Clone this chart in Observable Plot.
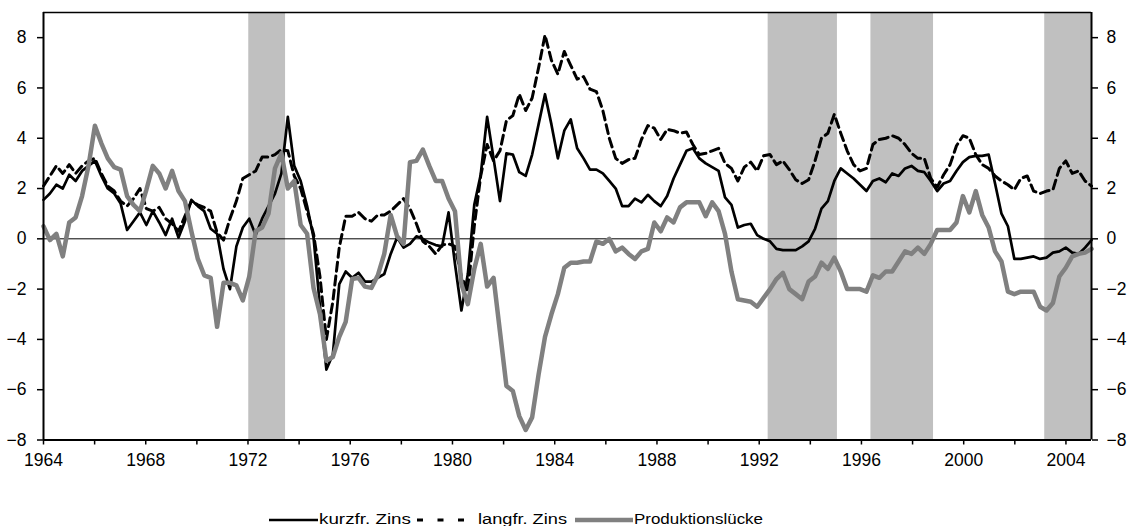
<!DOCTYPE html>
<html><head><meta charset="utf-8">
<script src="https://cdn.jsdelivr.net/npm/d3@7"></script>
<script src="https://cdn.jsdelivr.net/npm/@observablehq/plot@0.6"></script>
<style>
body{margin:0;background:#fff;font-family:"Liberation Sans",Arial,sans-serif}
svg{display:block}
#chart text{font-size:17.5px;font-family:"Liberation Sans",Arial,sans-serif;fill:#000}
</style>
</head><body><div id="chart"></div><div id="legend"></div>
<script>
// quarterly values 1964Q1 .. 2004Q4
const kurz = [1.55,1.8,2.15,2.0,2.55,2.3,2.7,2.9,3.1,2.5,2.0,1.8,1.4,0.35,0.7,1.05,0.55,1.1,0.65,0.15,
0.8,0.05,0.7,1.55,1.3,1.1,0.4,0.2,-1.2,-2.0,-0.3,0.45,0.8,0.15,0.8,1.3,1.8,2.6,4.85,2.9,
2.3,1.3,0.05,-2.7,-5.2,-4.6,-1.8,-1.3,-1.55,-1.35,-1.7,-1.7,-1.55,-1.4,-0.6,0.05,-0.35,-0.2,0.1,0.0,
-0.15,-0.25,-0.3,1.05,-1.0,-2.85,-1.4,1.35,2.55,4.85,3.2,1.5,3.4,3.35,2.65,2.5,3.35,4.55,5.75,4.55,
3.2,4.3,4.75,3.6,3.2,2.75,2.75,2.6,2.3,2.0,1.3,1.3,1.6,1.45,1.75,1.5,1.3,1.7,2.4,2.95,
3.5,3.6,3.2,3.0,2.85,2.7,1.65,1.35,0.45,0.55,0.6,0.15,0.0,-0.1,-0.4,-0.45,-0.45,-0.45,-0.3,-0.1,
0.4,1.2,1.5,2.3,2.8,2.6,2.4,2.15,1.9,2.3,2.4,2.25,2.6,2.5,2.8,2.9,2.7,2.65,2.3,1.9,
2.2,2.3,2.7,3.05,3.25,3.3,3.3,3.35,2.2,1.0,0.5,-0.8,-0.8,-0.75,-0.7,-0.8,-0.75,-0.55,-0.5,-0.35,
-0.55,-0.6,-0.35,-0.05];
const langfr = [2.1,2.5,2.9,2.6,2.95,2.6,2.9,3.1,3.2,2.6,2.1,1.9,1.5,1.3,1.6,2.0,1.2,1.1,1.25,0.8,
0.6,0.3,0.9,1.5,1.35,1.25,1.1,0.25,-0.05,0.8,1.5,2.4,2.55,2.7,3.25,3.25,3.35,3.55,3.5,2.5,
2.0,1.1,0.2,-1.5,-4.0,-2.5,-0.35,0.9,0.9,1.05,0.8,0.7,0.95,0.95,1.1,1.35,1.6,1.2,0.6,-0.1,
-0.3,-0.6,-0.25,-0.2,-0.3,-1.5,-2.1,0.5,2.5,3.75,3.1,3.5,4.7,4.9,5.75,5.1,5.6,6.8,8.1,7.1,
6.55,7.45,6.9,6.35,6.45,5.95,5.85,5.1,4.0,3.2,3.0,3.15,3.2,3.95,4.5,4.4,3.95,4.35,4.3,4.2,
4.25,3.75,3.35,3.4,3.5,3.6,3.0,2.8,2.3,2.85,3.05,2.7,3.3,3.35,2.95,3.1,2.75,2.35,2.2,2.35,
3.1,4.0,4.2,4.95,4.2,3.5,2.95,2.7,2.8,3.75,3.95,4.0,4.1,4.0,3.75,3.4,3.2,3.2,2.4,2.05,
2.55,2.95,3.7,4.1,4.0,3.35,2.95,2.8,2.5,2.3,2.15,1.95,2.4,2.5,1.9,1.8,1.9,1.95,2.8,3.1,
2.6,2.7,2.3,2.1];
const produktionsluecke = [0.5,-0.05,0.2,-0.7,0.65,0.85,1.7,2.9,4.5,3.8,3.2,2.85,2.75,1.7,1.35,1.1,1.95,2.9,2.6,2.0,
2.7,1.9,1.5,0.3,-0.8,-1.45,-1.55,-3.5,-1.75,-1.75,-1.85,-2.45,-1.5,0.3,0.45,1.0,2.8,3.4,2.0,2.3,
0.55,0.2,-1.95,-3.0,-4.85,-4.7,-3.9,-3.3,-1.6,-1.55,-1.9,-1.95,-1.45,-0.6,0.95,0.1,-0.2,3.05,3.1,3.55,
2.9,2.3,2.3,1.6,1.1,-1.8,-2.6,-1.2,-0.2,-1.9,-1.55,-3.7,-5.85,-6.05,-7.05,-7.6,-7.1,-5.4,-3.9,-3.0,
-2.2,-1.15,-0.95,-0.95,-0.9,-0.9,-0.1,-0.2,0.0,-0.5,-0.35,-0.6,-0.8,-0.5,-0.4,0.65,0.3,0.85,0.65,1.25,
1.45,1.45,1.45,0.9,1.45,1.1,0.2,-1.3,-2.4,-2.45,-2.5,-2.7,-2.35,-2.0,-1.6,-1.35,-2.0,-2.2,-2.4,-1.7,
-1.5,-0.95,-1.2,-0.75,-1.3,-2.0,-2.0,-2.0,-2.1,-1.45,-1.55,-1.3,-1.3,-0.9,-0.5,-0.6,-0.35,-0.6,-0.2,0.35,
0.35,0.35,0.65,1.7,1.05,1.9,0.95,0.45,-0.5,-0.9,-2.1,-2.2,-2.1,-2.1,-2.1,-2.7,-2.85,-2.55,-1.5,-1.15,
-0.7,-0.6,-0.55,-0.4];
const bandStart = [1972.03, 1992.35, 1996.37, 2003.17];
const bandEnd   = [1973.47, 1995.06, 1998.82, 2005.0];
const yTicks = [-8,-6,-4,-2,0,2,4,6,8];
const xTicks = d3.range(1964, 2005, 2);
const xLabels = [1964,1968,1972,1976,1980,1984,1988,1992,1996,2000,2004];
const seriesNames = ["kurzfr. Zins","langfr. Zins","Produktionslücke"];

const toRows = arr => arr.map((v,i)=>({x: 1964 + i*41/(arr.length-1), y: v}));
const bands = bandStart.map((s,i)=>({x1:s, x2:bandEnd[i]}));

const chart = Plot.plot({
  width:1128, height:496,
  marginLeft:43, marginRight:37, marginTop:12, marginBottom:56.5,
  x:{domain:[1964,2005]},
  y:{domain:[-8,9]},
  style:{fontFamily:"'Liberation Sans', Arial, sans-serif", fontSize:"17.5px", color:"#000", background:"#fff", overflow:"visible"},
  marks:[
    Plot.rect(bands,{x1:"x1", x2:"x2", y1:-8, y2:9, fill:"#c0c0c0"}),
    Plot.ruleY([0],{stroke:"#000", strokeWidth:1}),
    Plot.line(toRows(kurz),{x:"x", y:"y", stroke:"#000", strokeWidth:2.7}),
    Plot.line(toRows(langfr),{x:"x", y:"y", stroke:"#000", strokeWidth:3, strokeDasharray:"9,5"}),
    Plot.line(toRows(produktionsluecke),{x:"x", y:"y", stroke:"#808080", strokeWidth:4.5}),
    Plot.ruleY([9],{stroke:"#000", strokeWidth:1.3}),
    Plot.ruleY([-8],{stroke:"#000", strokeWidth:2}),
    Plot.ruleX([1964, 2005],{stroke:"#000", strokeWidth:2}),
    Plot.axisY({anchor:"left", ticks:yTicks, tickSize:6, tickPadding:11, label:null, strokeWidth:1.5}),
    Plot.axisY({anchor:"right", ticks:yTicks, tickSize:6, tickPadding:9, label:null, strokeWidth:1.5}),
    Plot.axisX({ticks:xTicks, tickSize:5, tickPadding:9, label:null, strokeWidth:1.5,
      tickFormat: d => xLabels.includes(d) ? String(d) : ""})
  ]
});
document.getElementById("chart").appendChild(chart);

// legend
const ns = "http://www.w3.org/2000/svg";
const lg = document.createElementNS(ns,"svg");
lg.setAttribute("width",1128); lg.setAttribute("height",30);
lg.style.overflow = "visible";
const items = [
  {x0:269, x1:318, stroke:"#000", w:2.7, dash:null, tx:319, tl:92},
  {x0:417, x1:464, stroke:"#000", w:3, dash:"6,14.5", tx:478, tl:89},
  {x0:575, x1:633, stroke:"#808080", w:4.5, dash:null, tx:634, tl:129}
];
items.forEach((it,i)=>{
  const l = document.createElementNS(ns,"line");
  l.setAttribute("x1",it.x0); l.setAttribute("x2",it.x1);
  l.setAttribute("y1",24); l.setAttribute("y2",24);
  l.setAttribute("stroke",it.stroke); l.setAttribute("stroke-width",it.w);
  if (it.dash) l.setAttribute("stroke-dasharray",it.dash);
  lg.appendChild(l);
  const t = document.createElementNS(ns,"text");
  t.setAttribute("x",it.tx); t.setAttribute("y",28);
  t.setAttribute("font-size","14px");
  t.setAttribute("font-family","'Liberation Sans', Arial, sans-serif");
  t.setAttribute("textLength",it.tl);
  t.setAttribute("lengthAdjust","spacingAndGlyphs");
  t.textContent = seriesNames[i];
  lg.appendChild(t);
});
document.getElementById("legend").appendChild(lg);
</script>
</body></html>
